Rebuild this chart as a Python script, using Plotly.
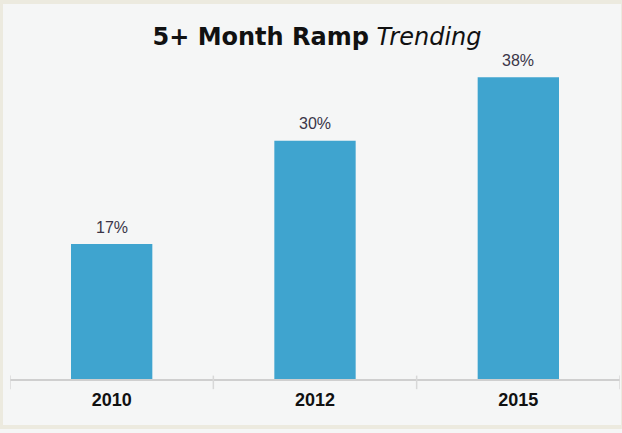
import plotly.graph_objects as go

years = ["2010", "2012", "2015"]
share = [17, 30, 38]
labels = ["17%", "30%", "38%"]

fig = go.Figure()
fig.add_trace(go.Bar(
    x=years, y=share,
    marker=dict(color="#3FA4CF", line=dict(width=0)),
    width=0.4,
))

# value labels above the bars (category index positions)
for i, (v, lab) in enumerate(zip(share, labels)):
    fig.add_annotation(x=i, y=v, text=lab, showarrow=False, yshift=17,
                       yanchor="middle",
                       font=dict(family="Arial, Liberation Sans", size=16, color="#3a3548"))

fig.update_layout(
    width=622, height=433,
    margin=dict(l=10, r=2, t=40, b=54),
    paper_bgcolor="#F5F6F6", plot_bgcolor="#F5F6F6",
    showlegend=False,
    title=dict(
        text="<b>5+ Month Ramp</b> <i>Trending</i>",
        x=317 / 622, xanchor="center", y=0.915, yanchor="middle",
        font=dict(family="DejaVu Sans", size=24, color="#111111"),
    ),
    font=dict(family="Arial, Liberation Sans"),
    # outer beige frame
    shapes=[dict(type="rect", xref="paper", yref="paper",
                 x0=-9 / 610, x1=1 + 3 / 610, y0=-(54 - 6) / 339, y1=1 + 38 / 339,
                 line=dict(color="#ECEADF", width=4), layer="below")],
)
fig.update_xaxes(
    type="category", range=[-0.5, len(years) - 0.5],
    showline=True, linecolor="#CFCFCF", linewidth=1.5,
    ticks="", showgrid=False, ticklabelstandoff=4,
    tickfont=dict(family="Arial, Liberation Sans", size=18, color="#111111"),
    tickprefix="<b>", ticksuffix="</b>",
)
# category boundary ticks
for i in range(len(years) + 1):
    fig.add_shape(type="line", xref="x", yref="paper", x0=i - 0.5, x1=i - 0.5,
                  y0=-0.03, y1=0.01, line=dict(color="#D8D8D8", width=1.5))
fig.update_yaxes(range=[0, 42.7], visible=False)

fig.write_html("out.html", config={"displayModeBar": False},
               post_script="document.body.style.margin='0';")
